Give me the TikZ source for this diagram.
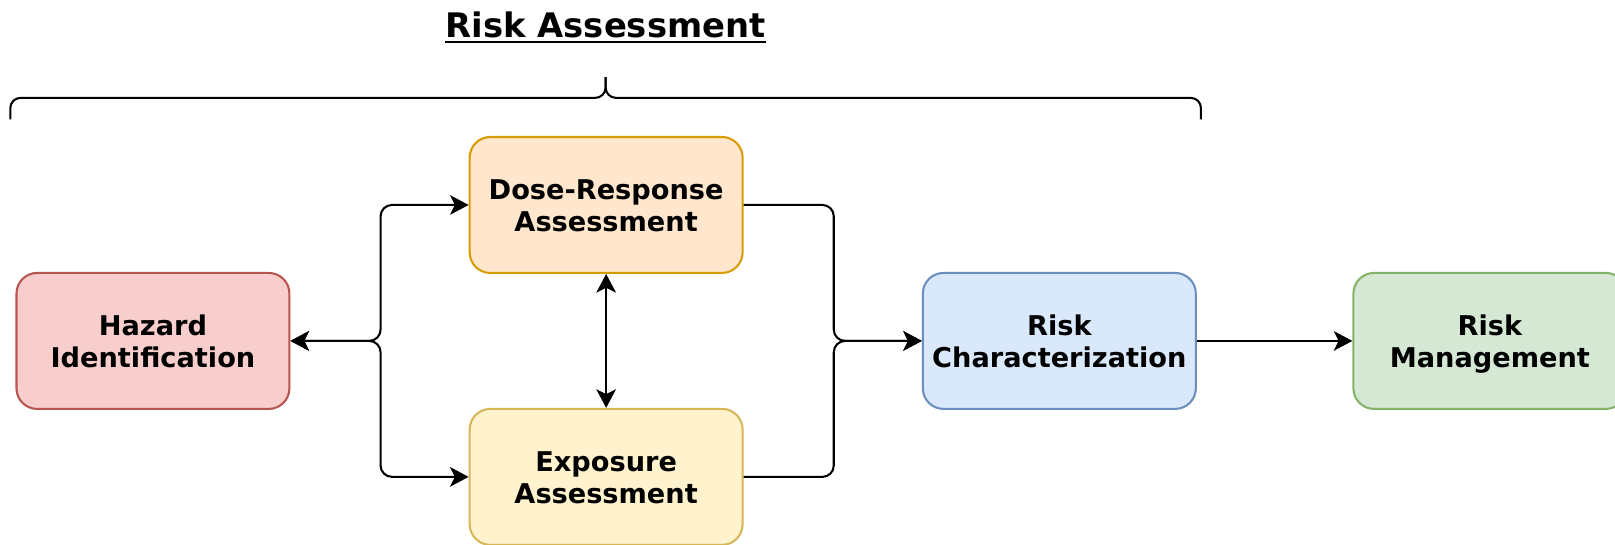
\documentclass[tikz,border=0pt]{standalone}
\usepackage{fontspec}
\setmainfont{DejaVu Sans}
\usetikzlibrary{arrows.meta}
\definecolor{hazfill}{HTML}{F8CECC}\definecolor{hazline}{HTML}{B85450}
\definecolor{dosefill}{HTML}{FFE6CC}\definecolor{doseline}{HTML}{D79B00}
\definecolor{expfill}{HTML}{FFF2CC}\definecolor{expline}{HTML}{D6B656}
\definecolor{rcfill}{HTML}{DAE8FC}\definecolor{rcline}{HTML}{6C8EBF}
\definecolor{rmfill}{HTML}{D5E8D4}\definecolor{rmline}{HTML}{82B366}
\tikzset{
  box/.style={rectangle, rounded corners=10pt, line width=1pt,
    minimum width=132.5pt, minimum height=66pt, align=center,
    text height=25.5pt, text depth=0pt,
    font=\fontsize{13.2pt}{15.5pt}\selectfont\bfseries, inner sep=0pt},
  conn/.style={line width=1pt, rounded corners=5.5pt},
  tip/.style={-{Stealth[length=9pt,width=9.5pt,inset=2.3pt]}},
  dtip/.style={{Stealth[length=9pt,width=9.5pt,inset=2.3pt]}-{Stealth[length=9pt,width=9.5pt,inset=2.3pt]}},
}
\begin{document}
\begin{tikzpicture}[x=0.5pt,y=-0.5pt]
\useasboundingbox (0,0) rectangle (1568,529);
% title
\node[anchor=base, inner sep=0pt, font=\fontsize{16.4pt}{19pt}\selectfont\bfseries] (title) at (588,36) {Risk Assessment};
\draw[line width=1pt] ([yshift=-2.5pt]title.base west) -- ([yshift=-2.5pt]title.base east);
% brace
\draw[line width=1pt, rounded corners=5pt] (10,116) -- (10,95) -- (588,95) -- (588,75);
\draw[line width=1pt, rounded corners=5pt] (588,75) -- (588,95) -- (1166,95) -- (1166,116);
% boxes
\node[box, fill=hazfill, draw=hazline] (haz) at (148.5,331) {Hazard\\Identification};
\node[box, fill=dosefill, draw=doseline] (dose) at (588.5,199) {Dose-Response\\Assessment};
\node[box, fill=expfill, draw=expline] (exp) at (588.5,463) {Exposure\\Assessment};
\node[box, fill=rcfill, draw=rcline] (rc) at (1028.5,331) {Risk\\Characterization};
\node[box, fill=rmfill, draw=rmline] (rm) at (1446.5,331) {Risk\\Management};
% connectors
\draw[conn, dtip] (haz.east) -- ++(87.5,0) |- (dose.west);
\draw[conn, dtip] (haz.east) -- ++(87.5,0) |- (exp.west);
\draw[conn, dtip] (dose.south) -- (exp.north);
\draw[conn, tip] (dose.east) -- ++(87.5,0) |- (rc.west);
\draw[conn, tip] (exp.east) -- ++(87.5,0) |- (rc.west);
\draw[conn, tip] (rc.east) -- (rm.west);
\end{tikzpicture}
\end{document}
